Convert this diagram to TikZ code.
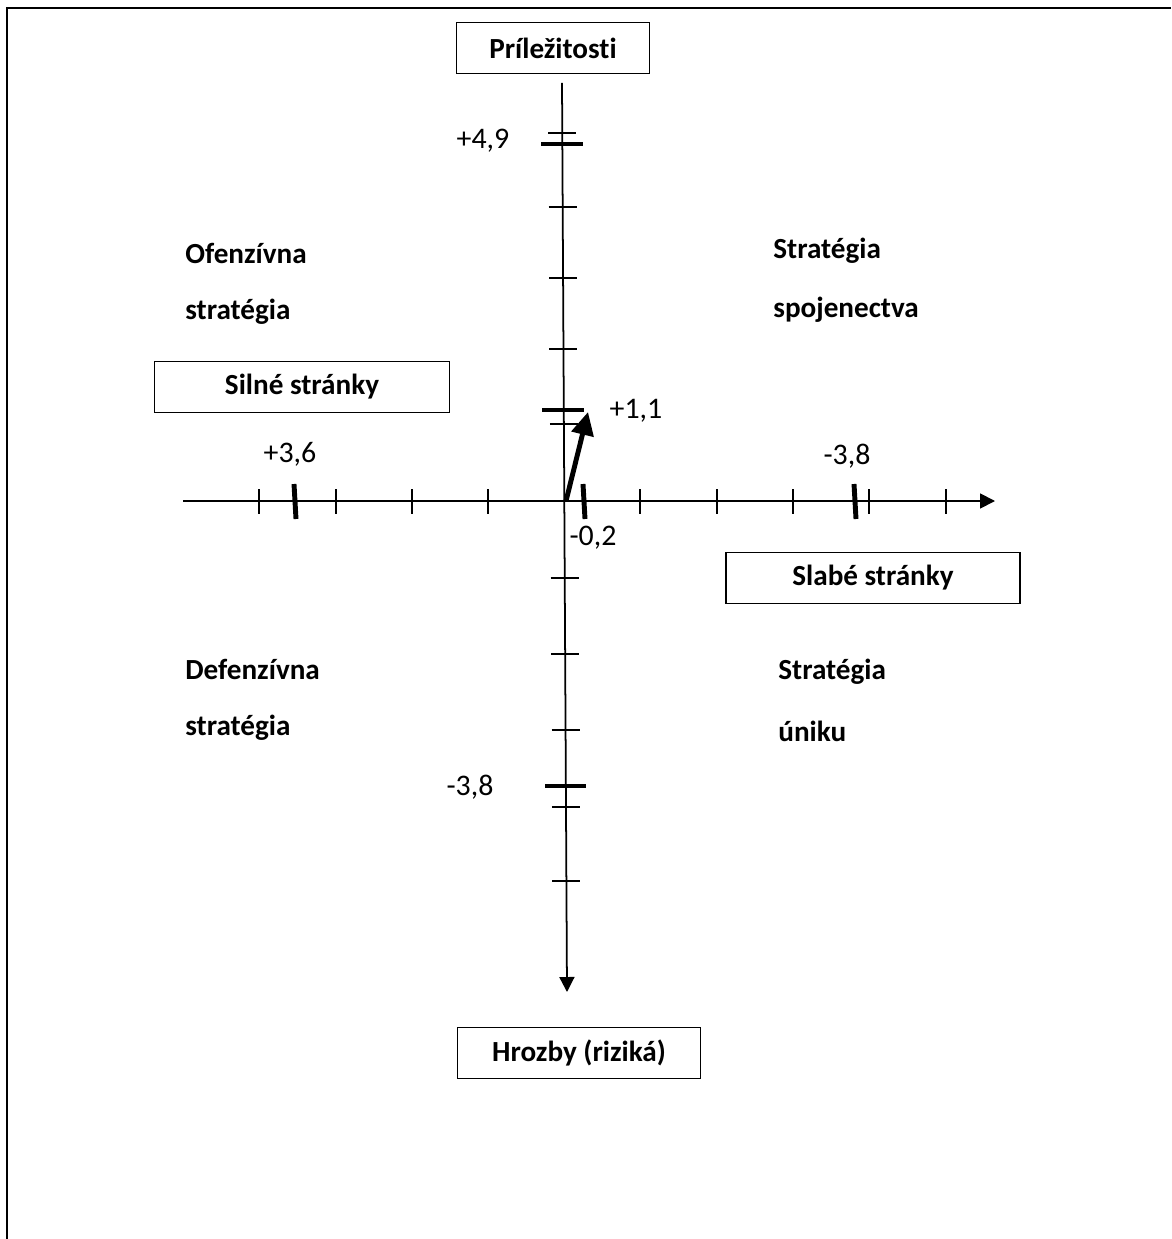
\documentclass[tikz,border=0pt]{standalone}
\usepackage{fontspec}
\setmainfont{Carlito}[Ligatures=NoCommon]
\usetikzlibrary{arrows.meta}

\tikzset{
  labelbox/.style={draw=black,line width=1pt,minimum height=1.02cm,inner sep=0pt,
    font=\fontsize{16.6}{19}\selectfont\bfseries},
  quadtext/.style={anchor=west,inner sep=0pt,font=\fontsize{16.6}{19}\selectfont\bfseries},
  numtext/.style={inner sep=0pt,font=\fontsize{17}{20}\selectfont},
  axisline/.style={line width=1pt,-{Triangle[length=0.3cm,width=0.3cm]}},
  smalltick/.style={line width=0.9pt},
  marktick/.style={line width=2.8pt}
}

\begin{document}
\begin{tikzpicture}[x=0.02cm,y=-0.02cm]
        \useasboundingbox (0,0) rectangle (1171,1239);
        %% frame of the cell
        \draw[line width=1.2pt] (7,1239) -- (7,8) -- (1171,8);

        %% axes
        \coordinate (top) at (562,83);
        \coordinate (bottom) at (567,992);
        \coordinate (left) at (183,501);
        \coordinate (right) at (995,501);
        \coordinate (origin) at (566,501);
        \draw[axisline] (top) -- (bottom);
        \draw[axisline] (left) -- (right);

        %% thin ticks
        \foreach \y in {133,207,278,349,424,578,654,730,807,881}
        \draw[smalltick] ({562+5*(\y-83)/909-14},\y) --++(28,0);
        \foreach \x in {259,336,412,488,640,717,793,869,946}
        \draw[smalltick] (\x,489) -- (\x,514);

        %% values
        \draw[marktick] (541,144) -- (583,144);
        \draw[marktick] (542,410) -- (584,410);
        \draw[marktick] (545,786) -- (586,786);
        \draw[marktick] (294,484) -- (296,519);
        \draw[marktick] (583,484) -- (585,519);
        \draw[marktick] (854,484) -- (856,519);

        \node[numtext] (n49) at (483,141) {+4,9};
        \node[numtext] (n11) at (636,411) {+1,1};
        \node[numtext] (n36) at (290,454) {+3,6};
        \node[numtext] (n38r) at (847,456) {-3,8};
        \node[numtext] (n02) at (593,538) {-0,2};
        \node[numtext] (n38b) at (470,787) {-3,8};

        %% resulting vector
        \coordinate (tip) at (588,412);
        \draw[line width=2.8pt,-{Triangle[length=0.46cm,width=0.44cm]}] (origin) -- (tip);

        %% axis names
        \node[labelbox,minimum width=3.86cm] (opp) at (553,48) {Príležitosti};
        \node[labelbox,minimum width=5.9cm] (str) at (302,387) {Silné stránky};
        \node[labelbox,minimum width=5.88cm] (weak) at (873,578) {Slabé stránky};
        \node[labelbox,minimum width=4.86cm] (thr) at (579,1053) {Hrozby (riziká)};

        %% quadrants
        \node[quadtext] (ofa) at (185,253) {Ofenzívna};
        \node[quadtext] (ofb) at (185,312) {stratégia};
        \node[quadtext] (spa) at (773,251) {Stratégia};
        \node[quadtext] (spb) at (773,310) {spojenectva};
        \node[quadtext] (dea) at (185,669) {Defenzívna};
        \node[quadtext] (deb) at (185,728) {stratégia};
        \node[quadtext] (una) at (778,672) {Stratégia};
        \node[quadtext] (unb) at (778,731) {úniku};
    \end{tikzpicture}
\end{document}
